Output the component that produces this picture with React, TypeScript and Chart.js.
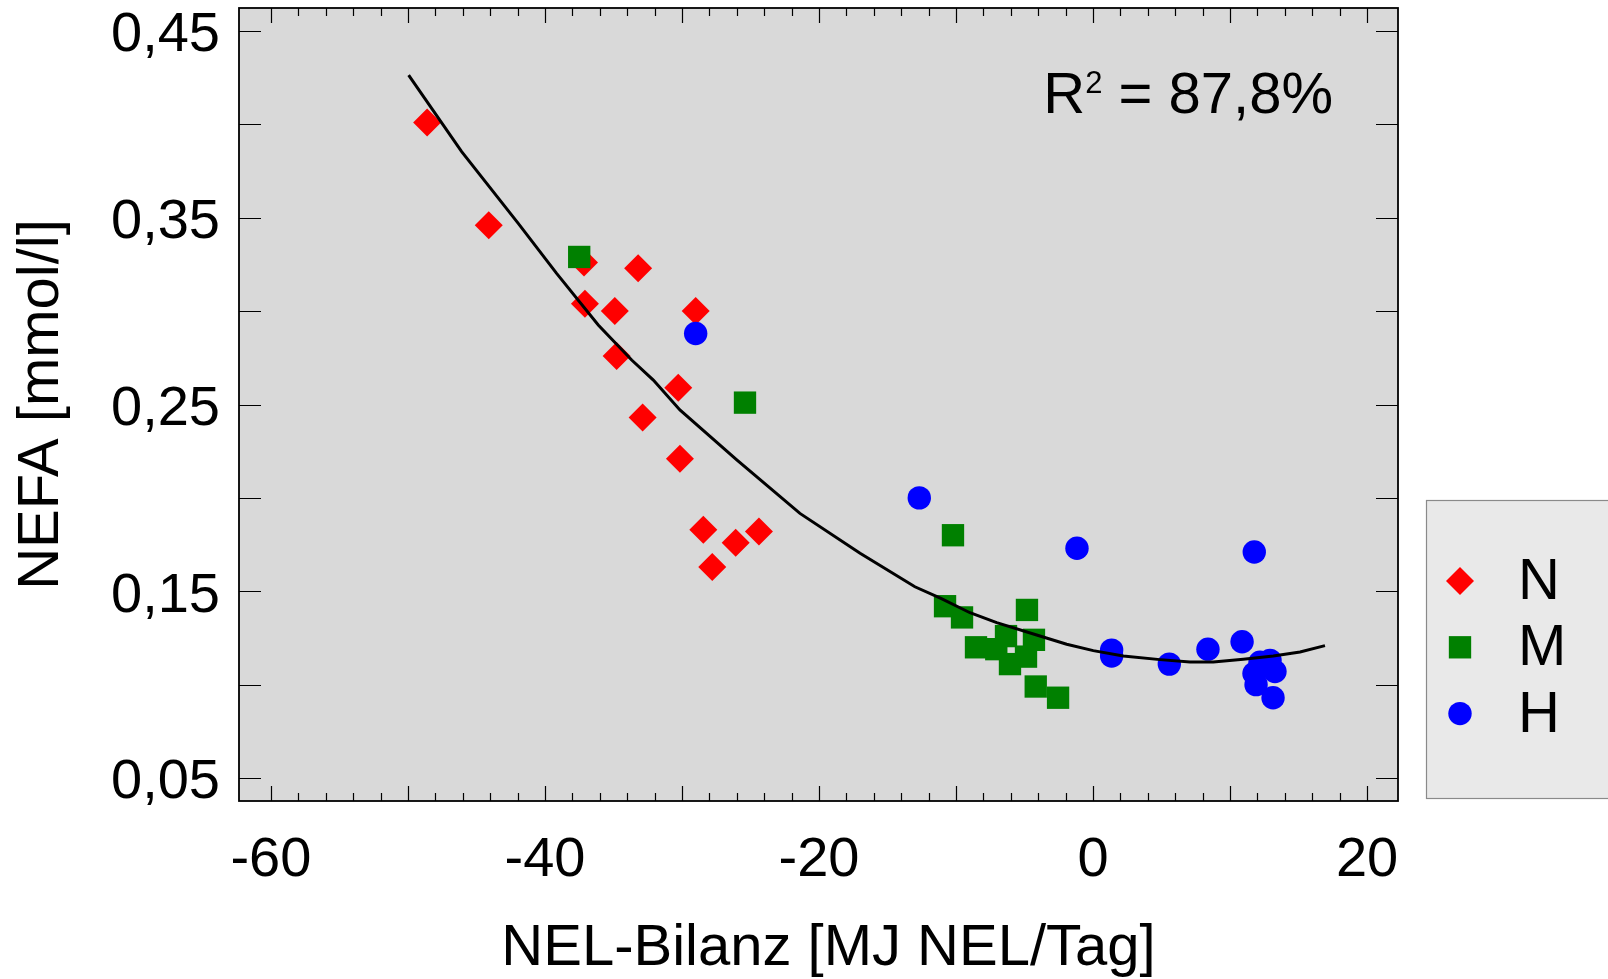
import { useEffect, useRef } from 'react';
import { Chart, registerables, ChartConfiguration, Plugin } from 'chart.js';

Chart.register(...registerables);

const FONT = '"Liberation Sans", Arial, Helvetica, sans-serif';

// Gruppe N (rote Rauten)
const nX = [-48.6, -44.1, -37.15, -33.2, -37.08, -34.9, -29.0, -34.77, -30.27, -32.87, -30.15, -28.44, -24.38, -26.08, -27.79];
const nY = [0.401, 0.346, 0.326, 0.323, 0.304, 0.300, 0.300, 0.276, 0.259, 0.243, 0.221, 0.183, 0.182, 0.176, 0.163];

// Gruppe M (grüne Quadrate)
const mX = [-37.5, -25.4, -10.22, -10.8, -9.56, -4.82, -8.54, -7.06, -6.35, -4.31, -4.89, -6.06, -4.18, -2.55];
const mY = [0.329, 0.251, 0.180, 0.142, 0.136, 0.140, 0.120, 0.119, 0.126, 0.124, 0.115, 0.111, 0.099, 0.093];

// Gruppe H (blaue Kreise)
const hX = [-29.0, -12.68, -1.17, 11.77, 1.36, 1.36, 5.57, 8.39, 10.88, 12.19, 12.92, 13.28, 11.75, 11.9, 13.14];
const hY = [0.288, 0.200, 0.173, 0.171, 0.1185, 0.1153, 0.111, 0.119, 0.123, 0.112, 0.113, 0.107, 0.106, 0.100, 0.093];

// Regressionskurve
const fitX = [-49.95, -46.08, -41.95, -39.15, -36.11, -33.67, -32.09, -30.15, -26.0, -21.39, -17.0, -13.0, -11.1, -8.98, -7.03, -4.11, -1.92, 0.02, 2.21, 4.89, 7.08, 8.78, 10.97, 13.16, 15.11, 16.93];
const fitY = [0.4264, 0.3854, 0.347, 0.3202, 0.2926, 0.2738, 0.2631, 0.2471, 0.2203, 0.1917, 0.1703, 0.1524, 0.1462, 0.1385, 0.1332, 0.1266, 0.1216, 0.1182, 0.1153, 0.1134, 0.1121, 0.1121, 0.1136, 0.1153, 0.1175, 0.1209];

const xLabelTicks = [-60, -40, -20, 0, 20];
const xMajorMarks = [-60, -50, -40, -30, -20, -10, 0, 10, 20];
const xMinorMarks = [-58, -56, -54, -52, -48, -46, -44, -42, -38, -36, -34, -32, -28, -26, -24, -22, -18, -16, -14, -12, -8, -6, -4, -2, 2, 4, 6, 8, 12, 14, 16, 18];
const yLabelTicks = [0.05, 0.15, 0.25, 0.35, 0.45];
const yMarks = [0.05, 0.1, 0.15, 0.2, 0.25, 0.3, 0.35, 0.4, 0.45];

const groups = ['N', 'M', 'H'];
const groupColors = ['#ff0000', '#008000', '#0000ff'];
const groupStyles = ['rectRot', 'rect', 'circle'];
const groupRadius = [14, 15.8, 11.7];

const xTitle = 'NEL-Bilanz [MJ NEL/Tag]';
const yTitle = 'NEFA [mmol/l]';
const rText = ['R', '2', ' = 87,8%'];

const zip = (xs: number[], ys: number[]) => xs.map((x, i) => ({ x, y: ys[i] }));

const drawMarker = (ctx: CanvasRenderingContext2D, style: string, r: number, x: number, y: number) => {
  ctx.beginPath();
  if (style === 'rectRot') {
    ctx.moveTo(x - r, y);
    ctx.lineTo(x, y - r);
    ctx.lineTo(x + r, y);
    ctx.lineTo(x, y + r);
    ctx.closePath();
  } else if (style === 'rect') {
    const s = Math.SQRT1_2 * r;
    ctx.rect(x - s, y - s, 2 * s, 2 * s);
  } else {
    ctx.arc(x, y, r, 0, Math.PI * 2);
  }
  ctx.fill();
};

const plotDecor: Plugin<'scatter'> = {
  id: 'plotDecor',
  beforeDraw(chart) {
    const { ctx, chartArea: a } = chart;
    ctx.save();
    ctx.fillStyle = '#d9d9d9';
    ctx.fillRect(a.left, a.top, a.right - a.left, a.bottom - a.top);
    ctx.restore();
  },
  afterDatasetsDraw(chart) {
    const { ctx, chartArea: a } = chart;
    const xs = chart.scales.x;
    const ys = chart.scales.y;
    ctx.save();
    ctx.strokeStyle = '#000';
    ctx.lineWidth = 1.2;
    ctx.beginPath();
    const xTick = (v: number, len: number) => {
      const px = Math.round(xs.getPixelForValue(v)) + 0.5;
      ctx.moveTo(px, a.bottom);
      ctx.lineTo(px, a.bottom - len);
      ctx.moveTo(px, a.top);
      ctx.lineTo(px, a.top + len);
    };
    xMajorMarks.forEach((v) => xTick(v, 15));
    xMinorMarks.forEach((v) => xTick(v, 8));
    yMarks.forEach((v) => {
      const py = Math.round(ys.getPixelForValue(v)) + 0.5;
      ctx.moveTo(a.left, py);
      ctx.lineTo(a.left + 22, py);
      ctx.moveTo(a.right, py);
      ctx.lineTo(a.right - 22, py);
    });
    ctx.stroke();

    ctx.lineWidth = 1.8;
    ctx.strokeRect(a.left, a.top, a.right - a.left, a.bottom - a.top);

    // R² annotation with a real superscript
    ctx.fillStyle = '#000';
    ctx.textAlign = 'left';
    ctx.textBaseline = 'alphabetic';
    const big = `58px ${FONT}`;
    const small = `31px ${FONT}`;
    ctx.font = big;
    const wR = ctx.measureText(rText[0]).width;
    const wRest = ctx.measureText(rText[2]).width;
    ctx.font = small;
    const wSup = ctx.measureText(rText[1]).width;
    const baseY = a.top + 105;
    let tx = a.right - 65 - (wR + wSup + wRest);
    ctx.font = big;
    ctx.fillText(rText[0], tx, baseY);
    tx += wR;
    ctx.font = small;
    ctx.fillText(rText[1], tx, baseY - 20);
    tx += wSup;
    ctx.font = big;
    ctx.fillText(rText[2], tx, baseY);

    // x-axis title, a little right of the plot centre as in the original
    ctx.textAlign = 'center';
    ctx.fillText(xTitle, (a.left + a.right) / 2 + 10, chart.height - 14);
    ctx.restore();
  },
  afterDraw(chart) {
    const { ctx, chartArea: a } = chart;
    const boxLeft = a.right + 28;
    const boxTop = 500;
    const boxBottom = a.bottom - 3;
    ctx.save();
    ctx.fillStyle = '#e9e9e9';
    ctx.fillRect(boxLeft, boxTop, chart.width - boxLeft + 2, boxBottom - boxTop);
    ctx.strokeStyle = '#8a8a8a';
    ctx.lineWidth = 1.2;
    ctx.strokeRect(boxLeft + 0.5, boxTop + 0.5, chart.width - boxLeft + 4, boxBottom - boxTop);
    ctx.font = `58px ${FONT}`;
    ctx.textAlign = 'left';
    ctx.textBaseline = 'middle';
    groups.forEach((g, i) => {
      const cy = boxTop + 81 + i * 66.3;
      ctx.fillStyle = groupColors[i];
      drawMarker(ctx, groupStyles[i], groupRadius[i], boxLeft + 34, cy);
      ctx.fillStyle = '#000';
      ctx.fillText(g, boxLeft + 92, cy + 2);
    });
    ctx.restore();
  },
};

const NefaChart = () => {
  const chartRef = useRef<HTMLCanvasElement | null>(null);
  const chartInstance = useRef<Chart | null>(null);

  useEffect(() => {
    if (chartInstance.current) {
      chartInstance.current.destroy();
    }
    if (!chartRef.current) return;
    const ctx = chartRef.current.getContext('2d');
    if (!ctx) return;

    const seriesX = [nX, mX, hX];
    const seriesY = [nY, mY, hY];

    const config: ChartConfiguration<'scatter'> = {
      type: 'scatter',
      data: {
        datasets: [
          {
            type: 'line',
            label: 'Fit',
            data: zip(fitX, fitY),
            borderColor: '#000',
            borderWidth: 3,
            pointRadius: 0,
            tension: 0,
            fill: false,
            order: 0,
          } as any,
          ...groups.map((g, i) => ({
            label: g,
            data: zip(seriesX[i], seriesY[i]),
            pointStyle: groupStyles[i],
            pointRadius: groupRadius[i],
            pointHoverRadius: groupRadius[i],
            backgroundColor: groupColors[i],
            borderColor: groupColors[i],
            borderWidth: 0,
            order: 3 - i,
          })),
        ],
      },
      options: {
        animation: false,
        responsive: false,
        maintainAspectRatio: false,
        layout: { autoPadding: false, padding: { left: 0, top: 8, right: 210, bottom: 0 } },
        plugins: {
          legend: { display: false },
          tooltip: { enabled: false },
        },
        scales: {
          x: {
            type: 'linear',
            min: -62.33,
            max: 22.26,
            afterBuildTicks: (s: any) => {
              s.ticks = xLabelTicks.map((value) => ({ value }));
            },
            afterFit: (s: any) => {
              s.height = 178;
              s.paddingLeft = 0;
              s.paddingRight = 0;
              s.paddingTop = 0;
              s.paddingBottom = 0;
            },
            grid: { display: false, drawTicks: false },
            border: { display: false },
            ticks: {
              autoSkip: false,
              maxRotation: 0,
              minRotation: 0,
              padding: 26,
              color: '#000',
              font: { family: FONT, size: 56 },
              callback: (v) => String(v),
            },
            title: { display: false },
          },
          y: {
            type: 'linear',
            min: 0.0377,
            max: 0.4623,
            afterBuildTicks: (s: any) => {
              s.ticks = yLabelTicks.map((value) => ({ value }));
            },
            afterFit: (s: any) => {
              s.width = 239;
              s.paddingLeft = 0;
              s.paddingRight = 0;
              s.paddingTop = 0;
              s.paddingBottom = 0;
            },
            grid: { display: false, drawTicks: false },
            border: { display: false },
            ticks: {
              autoSkip: false,
              padding: 19,
              labelOffset: 5,
              color: '#000',
              font: { family: FONT, size: 56 },
              callback: (v) => Number(v).toFixed(2).replace('.', ','),
            },
            title: {
              display: true,
              text: yTitle,
              color: '#000',
              font: { family: FONT, size: 58, lineHeight: 1.2 },
              padding: { top: 7, bottom: 0 },
            },
          },
        },
      },
      plugins: [plotDecor],
    };

    chartInstance.current = new Chart(ctx, config);

    return () => {
      if (chartInstance.current) {
        chartInstance.current.destroy();
        chartInstance.current = null;
      }
    };
  }, []);

  return (
    <canvas
      ref={chartRef}
      width={1608}
      height={979}
      style={{ display: 'block', width: 1608, height: 979 }}
    />
  );
};

export default function App() {
  return (
    <div style={{ position: 'absolute', left: 0, top: 0, width: 1608, height: 979, background: '#fff' }}>
      <NefaChart />
    </div>
  );
}
